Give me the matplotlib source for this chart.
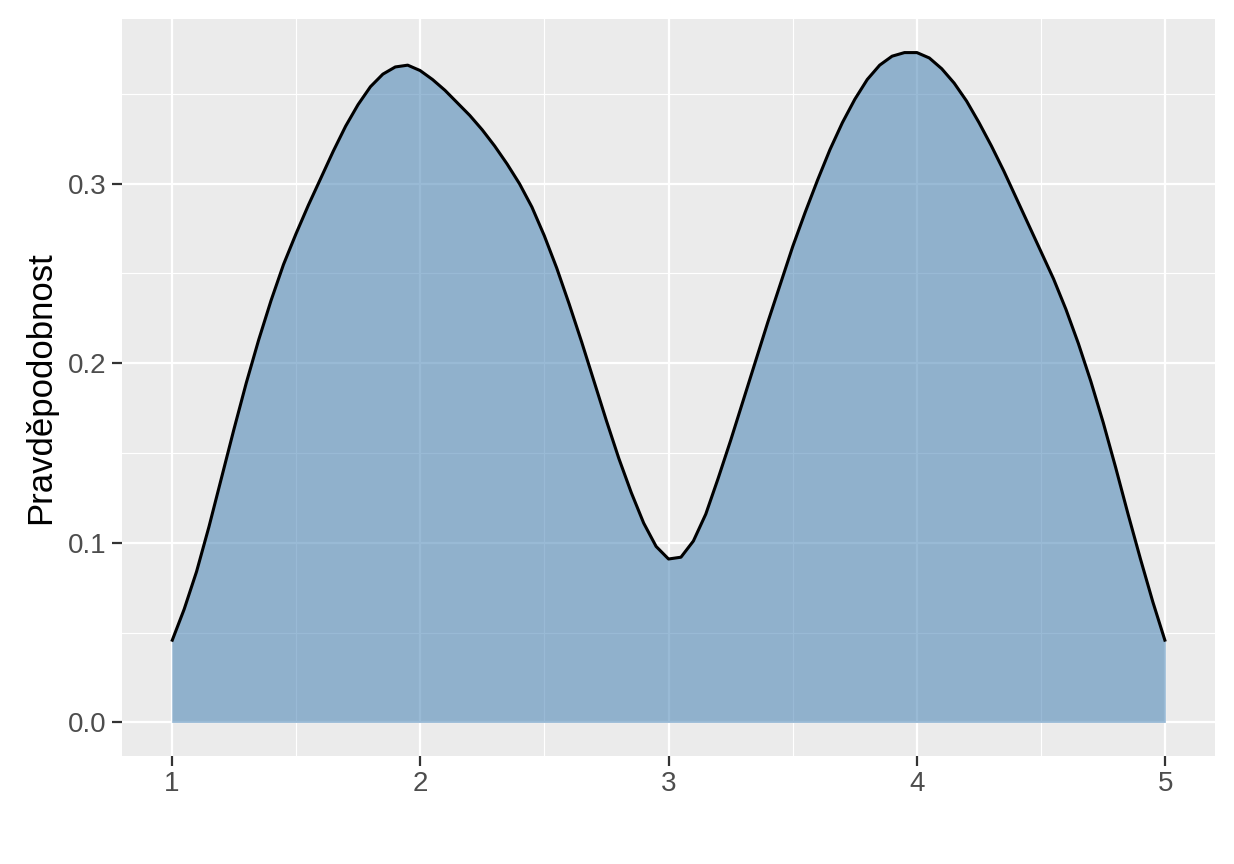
import matplotlib
matplotlib.use('Agg')
import matplotlib.pyplot as plt

# density curve, x in 0.05 steps
x_vals = [1.00, 1.05, 1.10, 1.15, 1.20, 1.25, 1.30, 1.35, 1.40, 1.45,
          1.50, 1.55, 1.60, 1.65, 1.70, 1.75, 1.80, 1.85, 1.90, 1.95,
          2.00, 2.05, 2.10, 2.15, 2.20, 2.25, 2.30, 2.35, 2.40, 2.45,
          2.50, 2.55, 2.60, 2.65, 2.70, 2.75, 2.80, 2.85, 2.90, 2.95,
          3.00, 3.05, 3.10, 3.15, 3.20, 3.25, 3.30, 3.35, 3.40, 3.45,
          3.50, 3.55, 3.60, 3.65, 3.70, 3.75, 3.80, 3.85, 3.90, 3.95,
          4.00, 4.05, 4.10, 4.15, 4.20, 4.25, 4.30, 4.35, 4.40, 4.45,
          4.50, 4.55, 4.60, 4.65, 4.70, 4.75, 4.80, 4.85, 4.90, 4.95,
          5.00]
density = [0.045, 0.063, 0.084, 0.109, 0.136, 0.163, 0.189, 0.213, 0.235, 0.255,
           0.272, 0.288, 0.303, 0.318, 0.332, 0.344, 0.354, 0.361, 0.365, 0.366,
           0.363, 0.358, 0.352, 0.345, 0.338, 0.330, 0.321, 0.311, 0.300, 0.287,
           0.271, 0.253, 0.233, 0.212, 0.190, 0.168, 0.147, 0.128, 0.111, 0.098,
           0.091, 0.092, 0.101, 0.116, 0.136, 0.157, 0.179, 0.201, 0.223, 0.244,
           0.265, 0.284, 0.302, 0.319, 0.334, 0.347, 0.358, 0.366, 0.371, 0.373,
           0.373, 0.370, 0.364, 0.356, 0.346, 0.334, 0.321, 0.307, 0.292, 0.277,
           0.262, 0.247, 0.230, 0.211, 0.190, 0.167, 0.142, 0.116, 0.091, 0.067,
           0.045]

x_ticks = [1, 2, 3, 4, 5]
y_ticks = [0.0, 0.1, 0.2, 0.3]
x_minor = [1.5, 2.5, 3.5, 4.5]
y_minor = [0.05, 0.15, 0.25, 0.35]
y_label = 'Pravděpodobnost'

plt.rcParams['font.family'] = ['Liberation Sans', 'DejaVu Sans']

fig = plt.figure(figsize=(12.34, 8.64), dpi=100)
ax = fig.add_axes([0.0989, 0.125, 0.8857, 0.853])
ax.set_facecolor('#EBEBEB')
for s in ax.spines.values():
    s.set_visible(False)

ax.set_axisbelow(True)
ax.set_xticks(x_ticks)
ax.set_yticks(y_ticks)
ax.set_xticks(x_minor, minor=True)
ax.set_yticks(y_minor, minor=True)
ax.grid(which='major', color='white', linewidth=1.6)
ax.grid(which='minor', color='white', linewidth=0.8)

ax.fill_between(x_vals, density, 0, color='#4682B4', alpha=0.55, linewidth=0)
ax.plot(x_vals, density, color='black', linewidth=2.2,
        solid_capstyle='butt', solid_joinstyle='round')

ax.set_xlim(0.8, 5.2)
ax.set_ylim(-0.0187, 0.3917)

ax.set_xticklabels([str(v) for v in x_ticks])
ax.set_yticklabels(['%.1f' % v for v in y_ticks])
ax.tick_params(which='major', length=7, width=1.6, color='#333333',
               labelsize=20, labelcolor='#4D4D4D', pad=4)
ax.tick_params(which='minor', length=0)

ax.set_ylabel(y_label, fontsize=25, color='black', labelpad=8)

fig.savefig('out.png', dpi=100, facecolor='white')
